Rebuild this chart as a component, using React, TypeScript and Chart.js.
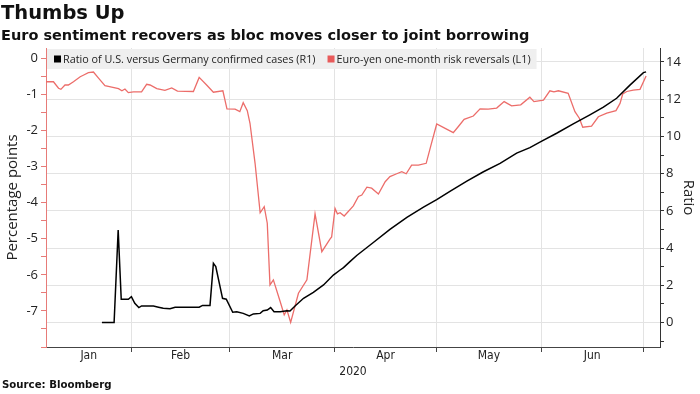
import React, { useEffect, useRef } from 'react';
import { Chart, registerables } from 'chart.js';

Chart.register(...registerables);

// ---- Data (x = day of year 2020, Jan 1 = 0) ----
const ratioDays = [
  22.3, 25.9, 27.1, 28, 30.1, 31, 32, 33.2, 34, 37.5, 39, 40.4, 42.4, 43.9, 51, 52, 54.2, 55.2, 55.9,
  57.9, 59, 60.9, 62.1, 64, 65.8, 67, 69, 69.9, 71.1, 72.1, 73.1, 74.9, 76.9, 77.8, 79.3, 81.8, 84.7,
  87.7, 90.6, 92.6, 93.6, 95.5, 97.5, 102.4, 107.3, 112.3, 117.2, 121.1, 125, 130, 134.9, 139.8, 144.7,
  148.6, 152.1, 156.5, 161.4, 166.3, 170.3, 174.2, 178.2, 182.1, 182.9,
];
const ratioValues = [
  0, 0, 4.97, 1.25, 1.25, 1.39, 1.03, 0.8, 0.89, 0.89, 0.82, 0.76, 0.74, 0.82, 0.82, 0.92, 0.92, 3.18, 3.0,
  1.3, 1.25, 0.55, 0.58, 0.49, 0.35, 0.46, 0.49, 0.63, 0.67, 0.8, 0.58, 0.58, 0.63, 0.62, 0.89, 1.3, 1.62,
  2.02, 2.55, 2.82, 2.95, 3.27, 3.6, 4.3, 5.0, 5.65, 6.2, 6.6, 7.05, 7.6, 8.1, 8.55, 9.1,
  9.4, 9.75, 10.17, 10.67, 11.16, 11.57, 12.05, 12.77, 13.43, 13.47,
];

const rrDays = [
  5.8, 8, 9.5, 10.2, 11.4, 12.4, 13.9, 15.9, 16.8, 18.3, 19.8, 21.3, 23.2, 25.2, 27.2, 28.2, 29.1, 30.1,
  31.6, 34, 35.5, 36.5, 38.5, 40.9, 42.9, 44.6, 49.3, 51, 53.2, 55.2, 58, 59.2, 61.6, 63, 64, 65.2, 66,
  67.5, 69, 70.2, 71.1, 71.9, 72.9, 74.9, 76.1, 76.9, 78, 80.3, 82.8, 85.2, 87.2, 89.6, 90.1, 91.1, 91.8,
  92.6, 93.8, 96.5, 98, 99, 100.5, 101.9, 103.9, 105.9, 107.3, 109.3, 110.8, 112.1, 113.7, 115.7, 118,
  119.3, 121.1, 123.6, 126, 127.5, 129.2, 131.9, 133.9, 136.3, 138.8, 141, 143.2, 145.9, 148.6, 149.8,
  152.6, 154.5, 155.7, 157, 159.9, 161.9, 163.2, 164.2, 166.8, 168.8, 171.3, 174, 175.2, 176, 177.2,
  179.1, 181.1, 182.9,
];
const rrValues = [
  -0.65, -0.65, -0.83, -0.86, -0.74, -0.74, -0.65, -0.51, -0.47, -0.4, -0.38, -0.55, -0.76, -0.8, -0.84,
  -0.9, -0.85, -0.95, -0.93, -0.93, -0.72, -0.74, -0.84, -0.89, -0.82, -0.91, -0.92, -0.53, -0.74, -0.94,
  -0.9, -1.4, -1.41, -1.48, -1.23, -1.45, -1.8, -2.91, -4.28, -4.11, -4.57, -6.28, -6.14, -6.74, -7.11,
  -6.97, -7.32, -6.51, -6.14, -4.31, -5.36, -5.01, -4.95, -4.16, -4.31, -4.28, -4.37, -4.09, -3.83, -3.79,
  -3.57, -3.6, -3.76, -3.42, -3.28, -3.2, -3.14, -3.2, -2.96, -2.96, -2.91, -2.45, -1.82, -1.94, -2.06,
  -1.89, -1.69, -1.6, -1.4, -1.41, -1.38, -1.2, -1.32, -1.29, -1.08, -1.2, -1.16, -0.9, -0.93, -0.9, -0.97,
  -1.48, -1.66, -1.91, -1.88, -1.62, -1.52, -1.45, -1.25, -0.99, -0.92, -0.88, -0.86, -0.49,
];

const monthNames = ['Jan', 'Feb', 'Mar', 'Apr', 'May', 'Jun'];
const monthStartDays = [0, 31, 60, 91, 121, 152, 182];
const yearLabel = '2020';

const seriesLabels = [
  'Ratio of U.S. versus Germany confirmed cases (R1)',
  'Euro-yen one-month risk reversals (L1)',
];

const X_MIN = 5.8;
const X_MAX = 187;

const RED = '#ec6d6a';
const UI_FONT = '"Open Sans", "Noto Sans", sans-serif';
const COND_FONT = '"DejaVu Sans Condensed", "DejaVu Sans", sans-serif';
const HEAD_FONT = '"DejaVu Sans", sans-serif';

const legendPlugin = {
  id: 'boxLegend',
  beforeDatasetsDraw(chart: any) {
    const { ctx, chartArea } = chart;
    ctx.save();
    ctx.font = `10.8px ${UI_FONT}`;
    const items = chart.data.datasets.map((d: any) => ({ label: d.label, color: d.legendColor }));
    const sq = 7;
    const padL = 7;
    const gapText = 2;
    const gapItem = 12;
    const padR = 6;
    let w = padL;
    items.forEach((it: any, i: number) => {
      w += sq + gapText + ctx.measureText(it.label).width;
      if (i < items.length - 1) w += gapItem;
    });
    w += padR;
    const top = chartArea.top + 1;
    const h = 20;
    ctx.fillStyle = '#efefef';
    ctx.fillRect(chartArea.left + 1, top, w, h);
    let x = chartArea.left + 1 + padL;
    const cy = top + h / 2;
    ctx.textBaseline = 'middle';
    ctx.textAlign = 'left';
    items.forEach((it: any) => {
      ctx.fillStyle = it.color;
      ctx.fillRect(x, cy - sq / 2, sq, sq);
      x += sq + gapText;
      ctx.fillStyle = '#222';
      ctx.fillText(it.label, x, cy + 0.5);
      x += ctx.measureText(it.label).width + gapItem;
    });
    ctx.restore();
  },
};

export default function App() {
  const canvasRef = useRef<HTMLCanvasElement | null>(null);

  useEffect(() => {
    document.body.style.margin = '0';
    const canvas = canvasRef.current;
    if (!canvas) return;

    const labelCenters = monthNames.map((_, i) => {
      const a = Math.max(monthStartDays[i], X_MIN);
      const b = Math.min(monthStartDays[i + 1], X_MAX);
      return (a + b) / 2;
    });

    const chart = new Chart(canvas, {
      type: 'line',
      data: {
        datasets: [
          {
            label: seriesLabels[0],
            data: ratioDays.map((d, i) => ({ x: d, y: ratioValues[i] })),
            borderColor: '#000000',
            legendColor: '#000000',
            borderWidth: 1.5,
            pointRadius: 0,
            tension: 0,
            yAxisID: 'y1',
          } as any,
          {
            label: seriesLabels[1],
            data: rrDays.map((d, i) => ({ x: d, y: rrValues[i] })),
            borderColor: RED,
            legendColor: '#e85a5a',
            borderWidth: 1.3,
            pointRadius: 0,
            tension: 0,
            yAxisID: 'y',
          } as any,
        ],
      },
      options: {
        animation: false,
        responsive: false,
        devicePixelRatio: 1,
        layout: { padding: { top: 48, bottom: 15, left: 0, right: 0 } },
        plugins: {
          legend: { display: false },
          tooltip: { enabled: false },
          title: { display: false },
        },
        scales: {
          x: {
            type: 'linear',
            position: 'bottom',
            weight: 0,
            min: X_MIN,
            max: X_MAX,
            afterBuildTicks: (s: any) => {
              s.ticks = monthStartDays.filter((d) => d > X_MIN && d <= X_MAX).map((v) => ({ value: v }));
            },
            ticks: { display: false },
            grid: { color: '#e3e3e3', tickColor: '#444', tickLength: 5, drawTicks: true },
            border: { color: '#444', width: 1 },
            afterFit: (s: any) => {
              s.height = 1;
            },
          },
          x2: {
            type: 'linear',
            position: 'bottom',
            weight: 1,
            min: X_MIN,
            max: X_MAX,
            afterBuildTicks: (s: any) => {
              s.ticks = labelCenters.map((v) => ({ value: v }));
            },
            ticks: {
              autoSkip: false,
              maxRotation: 0,
              padding: 1,
              color: '#222',
              font: { family: COND_FONT, size: 12 },
              callback: (_v: any, i: number) => monthNames[i],
            },
            grid: { display: false, drawTicks: false, tickLength: 0 },
            border: { display: false },
            title: {
              display: true,
              text: yearLabel,
              color: '#222',
              font: { family: COND_FONT, size: 12 },
              padding: { top: 0, bottom: 0 },
            },
            afterFit: (s: any) => {
              s.height = 31;
            },
          },
          y: {
            type: 'linear',
            position: 'left',
            min: -8,
            max: 0.285,
            ticks: {
              stepSize: 0.5,
              includeBounds: false,
              autoSkip: false,
              padding: 3,
              color: '#222',
              font: { family: UI_FONT, size: 13 },
              callback: (v: any) => {
                const n = Number(v);
                if (Math.abs(n - Math.round(n)) > 1e-6 || Math.round(n) <= -8) return '';
                return String(Math.round(n));
              },
            },
            grid: { drawOnChartArea: false, tickColor: '#e77b78', tickLength: 5 },
            border: { color: '#e77b78', width: 1 },
            title: {
              display: true,
              text: 'Percentage points',
              color: '#222',
              font: { family: UI_FONT, size: 15 },
              padding: { top: 4, bottom: 0 },
            },
            afterFit: (s: any) => {
              s.width = 46;
            },
          },
          y1: {
            type: 'linear',
            position: 'right',
            min: -1.317,
            max: 14.752,
            ticks: {
              stepSize: 1,
              includeBounds: false,
              autoSkip: false,
              padding: 2,
              color: '#222',
              font: { family: UI_FONT, size: 13 },
              callback: (v: any) => {
                const n = Math.round(Number(v));
                return n % 2 === 0 ? String(n) : '';
              },
            },
            grid: {
              drawOnChartArea: true,
              color: (c: any) =>
                c.tick && Math.round(c.tick.value) % 2 === 0 ? '#e3e3e3' : 'rgba(0,0,0,0)',
              tickColor: '#333',
              tickLength: 4,
            },
            border: { color: '#333', width: 1 },
            title: {
              display: true,
              text: 'Ratio',
              color: '#222',
              font: { family: UI_FONT, size: 15 },
              padding: { top: 3, bottom: 0 },
            },
            afterFit: (s: any) => {
              s.width = 40;
            },
          },
        },
      } as any,
      plugins: [legendPlugin],
    });

    return () => chart.destroy();
  }, []);

  return (
    <div style={{ position: 'relative', width: 700, height: 394, background: '#fff', overflow: 'hidden' }}>
      <canvas ref={canvasRef} width={700} height={394} style={{ position: 'absolute', left: 0, top: 0 }} />
      <div
        style={{
          position: 'absolute',
          left: 1,
          top: 0,
          fontFamily: HEAD_FONT,
          fontWeight: 'bold',
          fontSize: 19.5,
          lineHeight: '26px',
          color: '#111',
          whiteSpace: 'nowrap',
        }}
      >
        Thumbs Up
      </div>
      <div
        style={{
          position: 'absolute',
          left: 1,
          top: 26,
          fontFamily: HEAD_FONT,
          fontWeight: 'bold',
          fontSize: 14.5,
          lineHeight: '18px',
          color: '#111',
          whiteSpace: 'nowrap',
        }}
      >
        Euro sentiment recovers as bloc moves closer to joint borrowing
      </div>
      <div
        style={{
          position: 'absolute',
          left: 2,
          top: 378,
          fontFamily: HEAD_FONT,
          fontWeight: 'bold',
          fontSize: 10.2,
          lineHeight: '14px',
          color: '#111',
          whiteSpace: 'nowrap',
        }}
      >
        Source: Bloomberg
      </div>
    </div>
  );
}
